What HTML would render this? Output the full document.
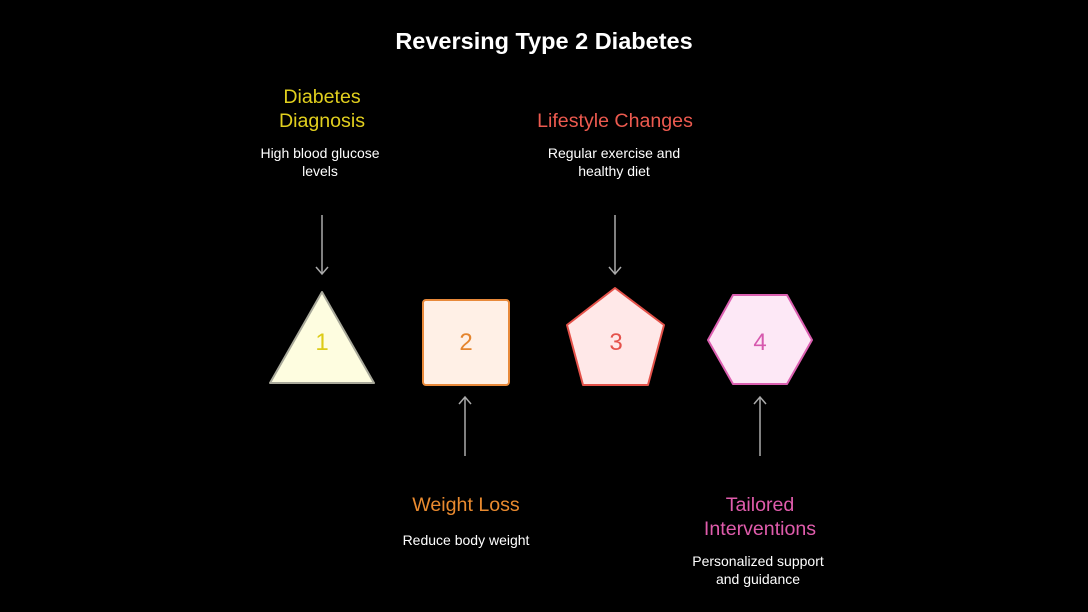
<!DOCTYPE html>
<html><head><style>
body{margin:0;background:#000;width:1088px;height:612px;overflow:hidden;font-family:"Liberation Sans",Roboto,sans-serif;}
.t{position:absolute;text-align:center;transform:translateX(-50%);}
.h{font-size:19.6px;line-height:24px;}
.d{font-size:14px;line-height:18px;color:#fff;}
</style></head><body>
<div class="t" style="left:544px;top:28px;color:#fff;font-size:23.5px;font-weight:bold;white-space:nowrap">Reversing Type 2 Diabetes</div>
<div class="t h" style="left:322px;top:85px;color:#e1cf1e;width:160px">Diabetes<br>Diagnosis</div>
<div class="t d" style="left:320px;top:144px;width:160px">High blood glucose<br>levels</div>
<div class="t h" style="left:615px;top:109px;color:#ec5a4f;width:220px">Lifestyle Changes</div>
<div class="t d" style="left:614px;top:144px;width:180px">Regular exercise and<br>healthy diet</div>
<div class="t h" style="left:466px;top:493px;color:#e98a2f;width:200px">Weight Loss</div>
<div class="t d" style="left:466px;top:531px;width:200px">Reduce body weight</div>
<div class="t h" style="left:760px;top:493px;color:#e05cac;width:200px">Tailored<br>Interventions</div>
<div class="t d" style="left:758px;top:552px;width:200px">Personalized support<br>and guidance</div>
<svg width="1088" height="612" style="position:absolute;left:0;top:0">
<g stroke="#aaa" stroke-width="1.5" fill="none">
<line x1="322" y1="215" x2="322" y2="274"/><polyline points="316,267 322,274 328,267"/>
<line x1="615" y1="215" x2="615" y2="274"/><polyline points="609,267 615,274 621,267"/>
<line x1="465" y1="456" x2="465" y2="397"/><polyline points="459,404 465,397 471,404"/>
<line x1="760" y1="456" x2="760" y2="397"/><polyline points="754,404 760,397 766,404"/>
</g>
<polygon points="322,292 374,383 270,383" fill="#fefde0" stroke="#a8a89a" stroke-width="2" stroke-linejoin="round"/>
<rect x="423" y="300" width="86" height="85" rx="3" fill="#fff0e6" stroke="#e8893a" stroke-width="2"/>
<polygon points="615,288 664,325 648,385 583,385 567,325" fill="#ffe8e8" stroke="#e4524a" stroke-width="2" stroke-linejoin="round"/>
<polygon points="733,295 787,295 812,340 787,384 733,384 708,340" fill="#fde8f6" stroke="#db5fb0" stroke-width="2" stroke-linejoin="round"/>
<g font-family="Liberation Sans,sans-serif" font-size="24" text-anchor="middle">
<text x="322" y="350" fill="#dccb16">1</text>
<text x="466" y="350" fill="#e5852e">2</text>
<text x="616" y="350" fill="#e5524b">3</text>
<text x="760" y="350" fill="#d659ae">4</text>
</g>
</svg>
</body></html>
